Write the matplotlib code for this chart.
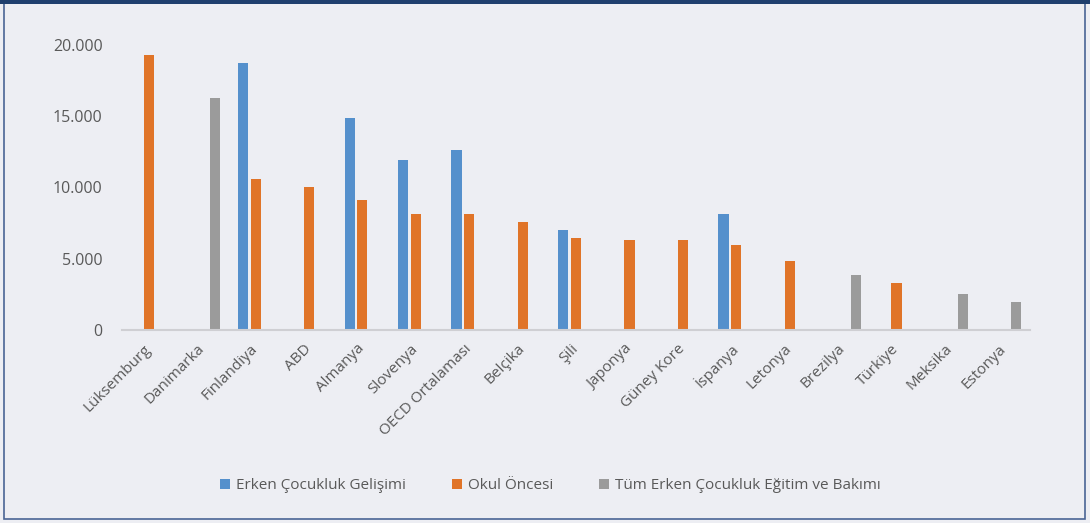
import matplotlib.pyplot as plt
import numpy as np
from matplotlib.patches import Rectangle

countries = ["Lüksemburg", "Danimarka", "Finlandiya", "ABD", "Almanya", "Slovenya",
             "OECD Ortalaması", "Belçika", "Şili", "Japonya", "Güney Kore", "İspanya",
             "Letonya", "Brezilya", "Türkiye", "Meksika", "Estonya"]
erken = [0, 0, 18750, 0, 14900, 11900, 12600, 0, 7000, 0, 0, 8150, 0, 0, 0, 0, 0]
okul = [19300, 0, 10600, 10000, 9150, 8150, 8150, 7600, 6450, 6300, 6300, 6000, 4850, 0, 3300, 0, 0]
tum = [0, 16300, 0, 0, 0, 0, 0, 0, 0, 0, 0, 0, 0, 3850, 0, 2550, 2000]
series_names = ["Erken Çocukluk Gelişimi", "Okul Öncesi", "Tüm Erken Çocukluk Eğitim ve Bakımı"]
colors = ["#5590CC", "#E07428", "#9B9B9B"]

bg = "#EDEEF3"
txt = "#595959"
plt.rcParams["font.family"] = ["Open Sans", "DejaVu Sans"]

fig = plt.figure(figsize=(10.9, 5.23), dpi=100, facecolor=bg)
ax = fig.add_axes([0.112, 0.369, 0.833, 0.545], facecolor=bg)

x = np.arange(len(countries))
w = 0.19
for i, (vals, c, name) in enumerate(zip([erken, okul, tum], colors, series_names)):
    ax.bar(x + (i - 1) * 0.24, vals, width=w, color=c, label=name)

ax.set_xlim(-0.5, len(countries) - 0.5)
ax.set_ylim(0, 20000)
ax.set_yticks([0, 5000, 10000, 15000, 20000])
ax.set_yticklabels(["0", "5.000", "10.000", "15.000", "20.000"], fontsize=11.5, color=txt)
ax.set_xticks(x)
ax.set_xticklabels(countries, rotation=45, ha="right", va="center", rotation_mode="anchor",
                   fontsize=11, color=txt)
ax.tick_params(axis="y", length=0, pad=14)
ax.tick_params(axis="x", length=0, pad=12)
for s in ["top", "right", "left"]:
    ax.spines[s].set_visible(False)
ax.spines["bottom"].set_color("#CFCFD3")
ax.spines["bottom"].set_linewidth(1.5)

fig.legend(loc="center", bbox_to_anchor=(0.505, 0.071), ncol=3, frameon=False,
           fontsize=11, labelcolor=txt, handlelength=0.65, handleheight=0.65,
           columnspacing=3.0, handletextpad=0.4)

# chart frame
fig.patches.append(Rectangle((0.004, 0.008), 0.991, 0.986, transform=fig.transFigure,
                             fill=False, edgecolor="#4A6595", linewidth=1.2))
fig.patches.append(Rectangle((0, 0.993), 1, 0.007, transform=fig.transFigure,
                             color="#1F3F6E", linewidth=0))

fig.savefig("out.png", dpi=100, facecolor=bg)
